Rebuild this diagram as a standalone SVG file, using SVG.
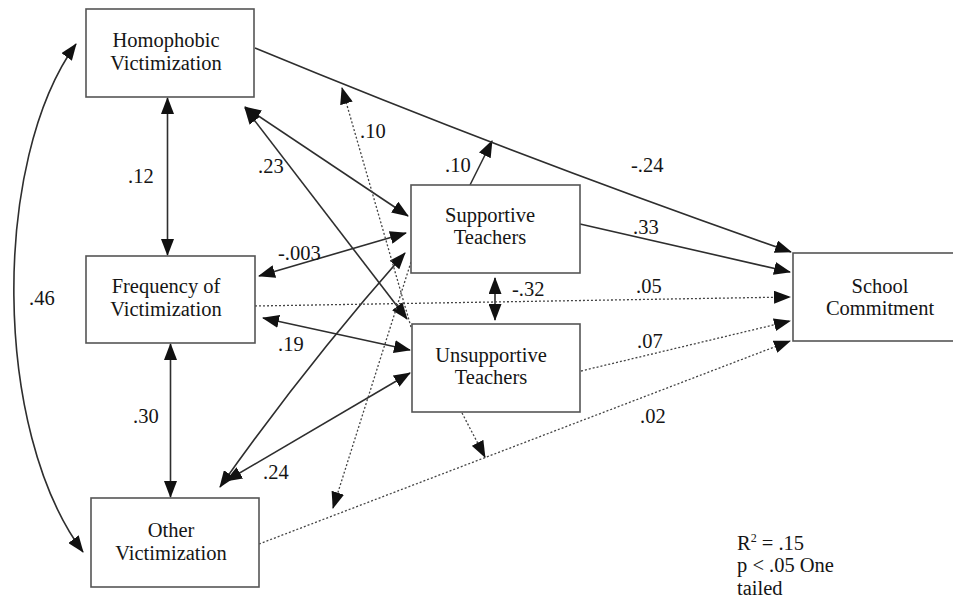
<svg xmlns="http://www.w3.org/2000/svg" width="953" height="603" viewBox="0 0 953 603">
<style>
.box{fill:#fff;stroke:#555;stroke-width:1.6}
text{font-family:'Liberation Serif','Times New Roman',Times,'Noto Serif','DejaVu Serif',serif;font-size:20.5px;fill:#151515}
.nt{text-anchor:middle}
.s{fill:none;stroke:#2e2e2e;stroke-width:1.6}
.d{fill:none;stroke:#444;stroke-width:1.3;stroke-dasharray:2 2}
.arr{marker-end:url(#ah)}
.bi{marker-start:url(#ah);marker-end:url(#ah)}
</style>
<defs>
<marker id="ah" viewBox="0 0 17 13" refX="16" refY="6.5" markerWidth="17" markerHeight="13" markerUnits="userSpaceOnUse" orient="auto-start-reverse">
<path d="M0,0 L17,6.5 L0,13 Z" fill="#111"/>
</marker>
</defs>
<rect width="953" height="603" fill="#fff"/>
<g id="connectors">
<path class="s bi" d="M167.5 98 L167.5 255"/>
<path class="s bi" d="M170.5 344 L170.5 497"/>
<path class="s bi" d="M76 44 C-8 160 -8 430 83 552"/>
<path class="s bi" d="M245 107 L408 216"/>
<path class="s bi" d="M245 108 L407 319"/>
<path class="s bi" d="M259 276 L406 233"/>
<path class="s bi" d="M263 318 L410 350"/>
<path class="s bi" d="M220 487 Q306 365 405 253"/>
<path class="s bi" d="M226 481 L410 373"/>
<path class="s arr" d="M470 185 L492 141"/>
<path class="s arr" d="M255 48 Q520 157.5 791 252"/>
<path class="s arr" d="M580 224 L790 272"/>
<path class="s bi" d="M495 278 L495 320"/>
<path class="d arr" d="M255 306 L790 297"/>
<path class="d arr" d="M581 371 L790 321"/>
<path class="d arr" d="M259 544 L790 341"/>
<path class="d arr" d="M411 327 L342 88"/>
<path class="d arr" d="M411 262 L333 508"/>
<path class="d arr" d="M462 413 L485 457"/>
</g>
<g id="edge-labels" font-family="Liberation Serif, Times New Roman, serif">
<text x="128" y="183">.12</text>
<text x="133" y="423">.30</text>
<text x="29" y="305">.46</text>
<text x="258" y="173">.23</text>
<text x="360" y="138">.10</text>
<text x="445" y="172">.10</text>
<text x="631" y="172">-.24</text>
<text x="633" y="234">.33</text>
<text x="278" y="260">-.003</text>
<text x="512" y="296">-.32</text>
<text x="636" y="293">.05</text>
<text x="278" y="351">.19</text>
<text x="637" y="348">.07</text>
<text x="263" y="479">.24</text>
<text x="640" y="423">.02</text>
</g>
<g id="homophobic">
<rect class="box" x="86" y="9" width="168" height="88"/>
<text class="nt" x="166" y="47">Homophobic</text>
<text class="nt" x="166" y="70">Victimization</text>
</g>
<g id="frequency">
<rect class="box" x="86" y="256" width="169" height="87"/>
<text class="nt" x="166" y="293">Frequency of</text>
<text class="nt" x="166" y="316">Victimization</text>
</g>
<g id="other">
<rect class="box" x="91" y="498" width="168" height="89"/>
<text class="nt" x="171" y="537">Other</text>
<text class="nt" x="171" y="560">Victimization</text>
</g>
<g id="supportive">
<rect class="box" x="411" y="185" width="169" height="88"/>
<text class="nt" x="490" y="222">Supportive</text>
<text class="nt" x="490" y="244">Teachers</text>
</g>
<g id="unsupportive">
<rect class="box" x="412" y="324" width="168" height="88"/>
<text class="nt" x="491" y="362">Unsupportive</text>
<text class="nt" x="491" y="384">Teachers</text>
</g>
<g id="school">
<rect class="box" x="793" y="253" width="175" height="88"/>
<text class="nt" x="880" y="293">School</text>
<text class="nt" x="880" y="315">Commitment</text>
</g>
<g id="note">
<text x="737" y="550">R<tspan font-size="12" dy="-8">2</tspan><tspan dy="8"> = .15</tspan></text>
<text x="737" y="572">p &lt; .05 One</text>
<text x="737" y="595">tailed</text>
</g>
</svg>
